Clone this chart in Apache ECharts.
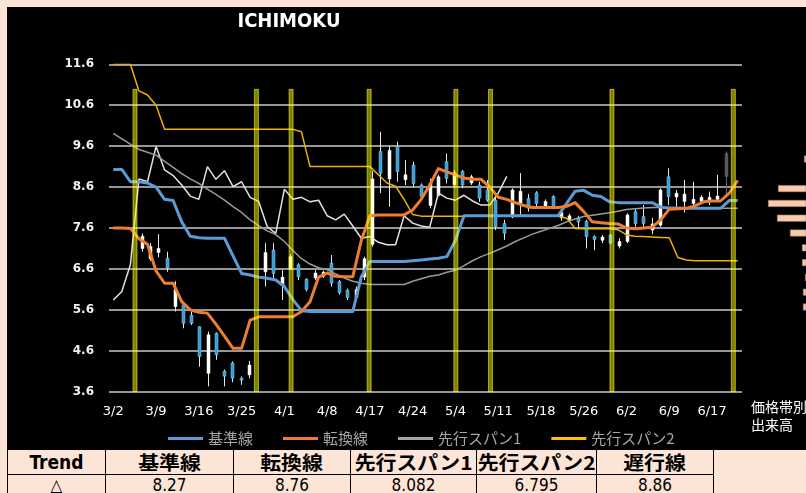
<!DOCTYPE html>
<html><head><meta charset="utf-8">
<script src="https://cdn.jsdelivr.net/npm/echarts@6/dist/echarts.min.js"></script>
<style>
html,body{margin:0;padding:0;background:#FCE4D6;width:806px;height:493px;overflow:hidden;position:relative;}
#bg{position:absolute;left:7px;top:7px;width:799px;height:443px;background:#000;}
#c{position:absolute;left:0;top:0;width:806px;height:493px;}
#tbl{position:absolute;left:7px;top:449px;border-collapse:collapse;table-layout:fixed;}
#tbl td{border:1.5px solid #000;padding:0;text-align:center;color:#000;overflow:hidden;white-space:nowrap;}
#tbl td span{display:inline-block;}
#tbl tr.h td{height:24px;font:bold 19px "Noto Sans CJK JP",sans-serif;line-height:24px;}
#tbl tr.h td span{transform:scaleX(1.1);}
#tbl tr.h td.lat{font:bold 19px "DejaVu Sans Condensed","DejaVu Sans",sans-serif;font-stretch:condensed;}
#tbl tr.h td.lat span{transform:none;}
#tbl tr.v td{height:22px;font:17px "DejaVu Sans Condensed","DejaVu Sans",sans-serif;font-stretch:condensed;vertical-align:top;line-height:20px;}
</style>
</head><body>
<div id="bg"></div>
<table id="tbl"></table>
<div id="c"></div>
<script>
// ---- data ----
const dates = ['3/2','3/3','3/4','3/5','3/6','3/9','3/10','3/11','3/12','3/13','3/16','3/17','3/18','3/19','3/23','3/25','3/26','3/27','3/30','3/31','4/1','4/2','4/3','4/6','4/7','4/8','4/9','4/10','4/13','4/14','4/17','4/20','4/21','4/22','4/23','4/24','4/27','4/28','4/30','5/1','5/4','5/5','5/6','5/7','5/8','5/11','5/12','5/13','5/14','5/15','5/18','5/19','5/20','5/21','5/22','5/26','5/27','5/28','5/29','6/1','6/2','6/3','6/4','6/5','6/8','6/9','6/10','6/11','6/12','6/15','6/17','6/18','6/19','6/22'];
const yTicks = [3.6, 4.6, 5.6, 6.6, 7.6, 8.6, 9.6, 10.6, 11.6];

const kijun = [9.03,9.03,8.73,8.73,8.7,8.6,8.3,8.27,7.75,7.4,
  7.36,7.35,7.35,7.35,6.92,6.49,6.45,6.4,6.37,6.33,
  6.17,5.85,5.58,5.56,5.56,5.56,5.56,5.56,5.56,6.41,
  6.78,6.78,6.78,6.78,6.78,6.8,6.82,6.84,6.86,6.9,
  7.3,7.9,7.9,7.9,7.9,7.9,7.9,7.9,7.9,7.9,
  7.9,7.9,7.9,8.2,8.5,8.52,8.4,8.37,8.24,8.22,
  8.22,8.22,8.22,8.22,8.11,8.08,8.08,8.08,8.08,8.08,
  8.08,8.08,8.27,8.27];
const tenkan = [7.6,7.6,7.59,7.34,7.2,6.55,6.25,6.25,5.8,5.6,
  5.54,5.52,5.25,4.96,4.66,4.66,5.35,5.43,5.43,5.43,
  5.43,5.43,5.56,5.8,6.4,6.5,6.42,6.41,6.41,7.3,
  7.9,7.92,7.92,7.92,7.92,8.04,8.3,8.65,9.05,8.97,
  8.9,8.82,8.79,8.79,8.6,8.35,8.3,8.22,8.15,8.1,
  8.1,8.1,8.1,8.13,8.22,8.0,7.75,7.73,7.71,7.7,
  7.6,7.58,7.6,7.62,7.8,8.06,8.07,8.08,8.14,8.24,
  8.26,8.26,8.45,8.76];
const senkou1 = [9.91,9.78,9.65,9.52,9.45,9.38,9.23,9.08,8.93,8.8,
  8.69,8.55,8.42,8.28,8.12,7.98,7.8,7.66,7.53,7.44,
  7.27,7.05,6.85,6.72,6.63,6.58,6.48,6.38,6.3,6.25,
  6.22,6.22,6.22,6.22,6.22,6.3,6.36,6.42,6.45,6.52,
  6.57,6.68,6.8,6.9,6.98,7.07,7.16,7.27,7.36,7.45,
  7.52,7.59,7.66,7.75,7.82,7.88,7.91,7.94,7.97,8.01,
  8.05,8.07,8.09,8.1,8.11,8.1,8.1,8.09,8.09,8.09,
  8.08,8.08,8.08,8.08];
const senkou2 = [11.6,11.6,11.6,10.95,10.85,10.6,10.01,10.01,10.01,10.01,
  10.01,10.01,10.01,10.01,10.01,10.01,10.01,10.01,10.01,10.01,
  10.01,10.01,9.95,9.1,9.1,9.1,9.1,9.1,9.1,9.1,
  9.1,8.9,8.7,8.62,8.3,7.93,7.89,7.89,7.89,7.89,
  7.89,7.89,7.89,7.89,7.89,7.89,7.89,7.89,7.89,7.89,
  7.89,7.89,7.89,7.84,7.59,7.58,7.58,7.58,7.58,7.56,
  7.43,7.4,7.39,7.38,7.37,7.36,6.88,6.82,6.8,6.8,
  6.8,6.8,6.8,6.8];
const chikou = [5.84,6.05,6.7,8.8,8.73,9.59,9.02,8.88,8.65,8.38,
  8.3,9.1,8.79,9.0,8.61,8.73,8.35,8.25,7.63,7.47,
  8.55,8.3,8.35,8.24,8.28,7.9,7.8,7.94,7.65,7.35,
  7.39,7.25,7.19,7.19,7.9,7.72,7.65,7.62,8.45,8.33,
  8.28,8.4,8.26,8.16,8.16,8.45,8.86];

// candles (slot axis, null = no candle)
const candleOpen = [null,null,null,null,
  7.1,6.85,7.0,6.86,5.68,5.72,5.47,5.19,4.05,5.03,4.1,4.3,3.93,4.01,
  null,
  6.53,7.06,6.2,6.6,6.7,6.35,6.38,6.42,6.74,6.29,6.08,5.9,6.4,7.2,9.47,8.8,9.59,8.78,9.14,8.65,
  8.15,8.4,9.22,8.65,8.98,8.7,8.65,8.53,8.28,7.71,7.87,8.2,8.32,8.46,8.1,8.37,7.85,7.8,7.85,7.76,
  7.39,7.3,7.43,7.16,7.27,8.0,7.88,7.55,7.67,8.85,8.36,8.25,8.2,8.25,8.25,8.3,9.42,
  null,null];
const candleClose = [null,null,null,null,
  7.4,7.15,7.1,6.62,6.1,5.27,5.27,4.46,4.99,4.5,3.98,3.93,3.88,4.25,
  null,
  7.0,6.49,6.4,6.9,6.41,6.1,6.5,6.52,6.25,6.02,5.9,6.1,6.85,8.8,8.94,9.5,8.98,8.9,8.69,8.37,
  8.7,8.85,8.81,8.95,8.65,8.85,8.33,8.28,7.63,7.47,8.53,8.5,8.08,8.2,8.25,8.1,7.98,7.9,7.75,7.39,
  7.32,7.38,7.23,7.27,7.92,7.71,7.71,7.7,8.53,8.37,8.45,8.43,8.3,8.35,8.35,8.38,8.86,
  null,null];
const candleLow = [null,null,null,null,
  7.02,6.8,6.88,6.53,5.56,5.15,5.23,4.21,3.73,4.38,3.73,3.83,3.77,3.93,
  null,
  6.17,6.37,5.84,6.57,6.33,6.05,6.33,6.38,6.17,5.97,5.84,5.84,6.33,7.14,8.45,8.12,8.73,8.65,8.61,8.33,
  8.08,8.37,8.69,8.57,8.57,8.65,8.24,8.24,7.55,7.31,7.84,7.92,8.0,8.12,8.06,8.06,7.78,7.75,7.6,7.1,
  7.06,7.23,7.2,7.1,7.23,7.63,7.63,7.45,7.63,8.16,8.12,7.98,8.12,8.2,8.16,8.28,8.37,
  null,null];
const candleHigh = [null,null,null,null,
  7.47,7.23,7.45,7.02,6.3,5.8,5.56,5.2,5.07,5.05,4.14,4.34,3.97,4.35,
  null,
  7.23,7.23,6.57,6.96,6.74,6.37,6.57,6.56,6.94,6.33,6.12,6.17,6.9,9.0,9.95,9.6,9.71,9.26,9.22,8.69,
  8.81,8.9,9.42,9.02,9.02,8.9,8.73,8.77,8.45,7.8,8.57,8.94,8.43,8.5,8.3,8.4,8.05,7.95,7.9,7.8,
  7.42,7.43,7.45,7.35,7.96,8.08,8.16,7.85,8.57,9.06,8.53,8.77,8.73,8.4,8.49,8.9,9.47,
  null,null];

// vertical "change day" bars (slot axis)
const turnSlotCount = 74;
const turnIdx = [3, 17, 21, 30, 40, 44, 58, 72];
const turnTop = 11.0;

// volume by price (top band first)
const priceBands = ['b1','b2','b3','b4','b5','b6','b7','b8','b9','b10','b11'];
const bandVolume = [46, 0, 72, 82, 73, 60, 48, 48, 45, 47, 47];

const legendNames = ['基準線','転換線','先行スパン1','先行スパン2'];
const tableHeaders = ['Trend','基準線','転換線','先行スパン1','先行スパン2','遅行線'];
const tableValues = ['△','8.27','8.76','8.082','6.795','8.86'];

// ---- table (HTML) ----
const colW = [98, 128, 117, 126, 120, 117];
(function(){
  const t = document.getElementById('tbl');
  const cg = '<colgroup>' + colW.map(w => '<col style="width:' + w + 'px">').join('') + '</colgroup>';
  const h = '<tr class="h">' + tableHeaders.map((s,i) => '<td' + (/^[A-Za-z]+$/.test(s) ? ' class="lat"' : '') + '><span>' + s + '</span></td>').join('') + '</tr>';
  const v = '<tr class="v">' + tableValues.map(s => '<td>' + s + '</td>').join('') + '</tr>';
  t.innerHTML = cg + h + v;
})();

// ---- chart ----
const candleSlots = candleOpen.map((_, i) => String(i));
const candleData = [];
candleOpen.forEach((o, i) => { if (o != null) candleData.push([i, o, candleClose[i], candleLow[i], candleHigh[i]]); });
const turnSlots = [];
for (let i = 0; i < turnSlotCount; i++) turnSlots.push(String(i));
const turnData = turnSlots.map((_, i) => turnIdx.indexOf(i) >= 0 ? turnTop : null);

const FONT = '"DejaVu Sans", sans-serif';
const JP = '"Noto Sans CJK JP", sans-serif';

function renderCandle(params, api) {
  const i = api.value(0), o = api.value(1), c = api.value(2), l = api.value(3), h = api.value(4);
  const po = api.coord([i, o]), pc = api.coord([i, c]), pl = api.coord([i, l]), ph = api.coord([i, h]);
  const x = Math.round(po[0]) + 0.5;
  const w = 3;
  const up = c >= o;
  const last = params.dataIndex === candleData.length - 1;
  const top = Math.min(po[1], pc[1]);
  const bh = Math.max(Math.abs(po[1] - pc[1]), 1.5);
  const body = last ? '#5A5A5A' : (up ? '#FFFFFF' : '#2F9FD8');
  const wick = last ? '#6A6A6A' : '#E8E8E8';
  return {type: 'group', children: [
    {type: 'line', shape: {x1: x, y1: ph[1], x2: x, y2: pl[1]}, style: {stroke: wick, lineWidth: 1}},
    {type: 'rect', shape: {x: x - w / 2, y: top, width: w, height: bh}, style: {fill: body, stroke: up || last ? body : '#8CCBEE', lineWidth: 0.5}}
  ]};
}

const chart = echarts.init(document.getElementById('c'), null, {renderer: 'canvas'});
const lineCommon = {type: 'line', xAxisIndex: 0, yAxisIndex: 0, symbol: 'none', showSymbol: false, animation: false};
chart.setOption({
  backgroundColor: 'transparent',
  animation: false,
  grid: [
    {left: 109, right: 64, top: 64.3, height: 327.4},
    {left: 736, right: 0, top: 151.6, height: 162.8}
  ],
  legend: {
    data: legendNames, top: 431, left: 168, padding: 0, icon: 'rect', itemWidth: 35, itemHeight: 3, itemGap: 30,
    textStyle: {color: '#A6A6A6', fontFamily: JP, fontSize: 15}
  },
  xAxis: [
    {type: 'category', gridIndex: 0, data: dates, boundaryGap: true,
     axisLine: {show: false}, axisTick: {show: false}, splitLine: {show: false},
     axisLabel: {interval: 4, color: '#FFFFFF', fontFamily: FONT, fontSize: 13, margin: 13}},
    {type: 'category', gridIndex: 0, data: candleSlots, boundaryGap: false, show: false},
    {type: 'category', gridIndex: 0, data: turnSlots, boundaryGap: false, show: false},
    {type: 'value', gridIndex: 1, inverse: true, min: 44, max: 114, show: false}
  ],
  yAxis: [
    {type: 'value', gridIndex: 0, min: yTicks[0], max: yTicks[yTicks.length - 1], interval: 1,
     axisLine: {show: false}, axisTick: {show: false},
     axisLabel: {color: '#F0F0F0', fontWeight: 'bold', fontFamily: FONT, fontSize: 12, margin: 15, formatter: v => v.toFixed(1)},
     splitLine: {lineStyle: {color: '#C8C8C8', width: 1.5}}},
    {type: 'category', gridIndex: 1, data: priceBands, inverse: true, show: false}
  ],
  graphic: [
    {type: 'text', x: 289, y: 22, style: {text: 'ICHIMOKU', textAlign: 'center', textVerticalAlign: 'middle', fill: '#FFFFFF', font: 'bold 20px "DejaVu Sans Condensed", "DejaVu Sans", sans-serif'}},
    {type: 'text', x: 751, y: 407, style: {text: '価格帯別', textAlign: 'left', textVerticalAlign: 'middle', fill: '#FFFFFF', font: '14px "Noto Sans CJK JP", sans-serif'}},
    {type: 'text', x: 751, y: 425, style: {text: '出来高', textAlign: 'left', textVerticalAlign: 'middle', fill: '#FFFFFF', font: '14px "Noto Sans CJK JP", sans-serif'}}
  ],
  series: [
    {type: 'custom', name: 'ローソク足', xAxisIndex: 1, yAxisIndex: 0, data: candleData, encode: {x: 0, y: [1, 2, 3, 4]}, renderItem: renderCandle, z: 2, clip: true},
    Object.assign({}, lineCommon, {name: '遅行線', data: chikou, lineStyle: {color: '#E2E2E2', width: 1.5}, itemStyle: {color: '#E2E2E2'}, z: 3}),
    Object.assign({}, lineCommon, {name: '先行スパン1', data: senkou1, lineStyle: {color: '#9A9A9A', width: 1.5}, itemStyle: {color: '#A5A5A5'}, z: 3}),
    Object.assign({}, lineCommon, {name: '先行スパン2', data: senkou2, lineStyle: {color: '#EDB100', width: 1.5}, itemStyle: {color: '#FFC000'}, z: 3}),
    Object.assign({}, lineCommon, {name: '基準線', data: kijun, lineStyle: {color: '#5B9BD5', width: 3, join: 'round'}, itemStyle: {color: '#5B9BD5'}, z: 4}),
    Object.assign({}, lineCommon, {name: '転換線', data: tenkan, lineStyle: {color: '#ED7D31', width: 3, join: 'round'}, itemStyle: {color: '#ED7D31'}, z: 4}),
    {type: 'bar', name: '変化日', xAxisIndex: 2, yAxisIndex: 0, data: turnData, barWidth: 5, clip: true, z: 6,
     itemStyle: {color: 'rgba(255,255,0,0.5)', borderColor: 'rgba(255,255,60,0.55)', borderWidth: 1}},
    {type: 'bar', name: '価格帯別出来高', xAxisIndex: 3, yAxisIndex: 1, data: bandVolume, barWidth: 7, clip: true,
     itemStyle: {color: '#F8CBAD', borderColor: '#8A6A58', borderWidth: 0.5}}
  ]
});
</script>
</body></html>
